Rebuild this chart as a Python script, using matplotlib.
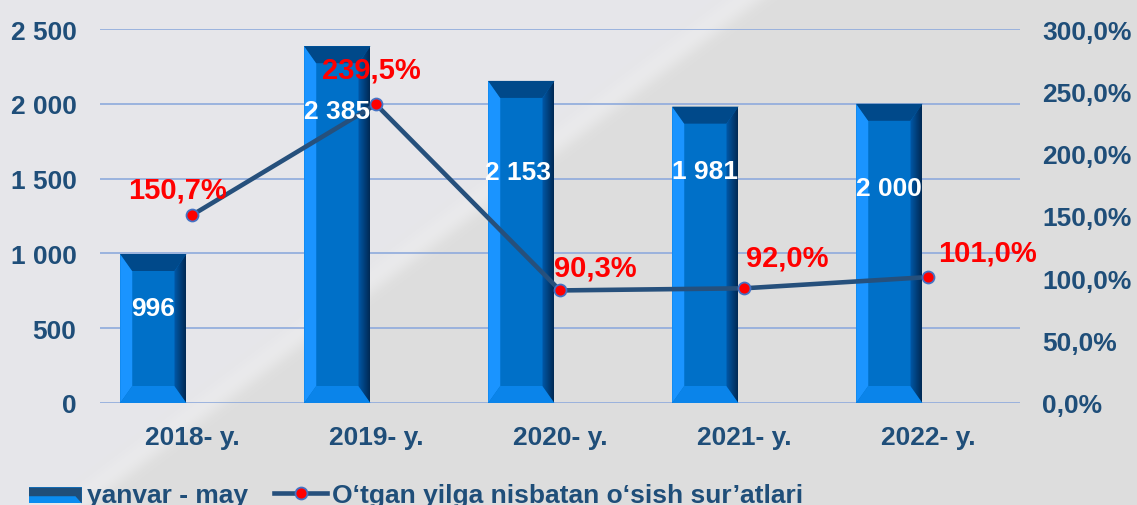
import numpy as np
import matplotlib
matplotlib.use('Agg')
import matplotlib.pyplot as plt
from matplotlib.patches import Polygon, Patch
from matplotlib.lines import Line2D
from matplotlib.ticker import FuncFormatter

plt.rcParams['font.family'] = ['Liberation Sans', 'DejaVu Sans']
plt.rcParams['font.weight'] = 'bold'

# data
years = ['2018- y.', '2019- y.', '2020- y.', '2021- y.', '2022- y.']
values = [996, 2385, 2153, 1981, 2000]
growth = [150.7, 239.5, 90.3, 92.0, 101.0]
value_labels = ['996', '2 385', '2 153', '1 981', '2 000']
growth_labels = ['150,7%', '239,5%', '90,3%', '92,0%', '101,0%']
bar_name = 'yanvar - may'
line_name = 'O\u2018tgan yilga nisbatan o\u2018sish sur\u2019atlari'

# label offsets in pixels (styling)
val_offsets = [(0, -54), (0, -65), (-3, -91), (0, -64), (0, -84)]
pct_offsets = [(-14, 26), (-5, 35), (35, 23), (43, 31), (59, 25)]

W, H = 1137, 506
TXT = '#1f4e79'
fig = plt.figure(figsize=(W / 100, H / 100), dpi=100)

# background
bg_ax = fig.add_axes([0, 0, 1, 1], zorder=-5)
yy, xx = np.mgrid[0:H, 0:W]
d = xx + 1.33 * yy
left_c = np.array([230, 230, 234]) / 255
right_c = np.array([221, 221, 221]) / 255
t = np.clip((d - 738) / 60 + 0.5, 0, 1)[..., None]
img = left_c * (1 - t) + right_c * t
streak = np.exp(-((d - 745) / 22) ** 2)[..., None] * 0.035
img = np.clip(img + streak, 0, 1)
bg_ax.imshow(img, aspect='auto', extent=[0, 1, 0, 1])
bg_ax.axis('off')

ax = fig.add_axes([100 / W, 102 / H, 920 / W, 374 / H])
ax.patch.set_alpha(0)
x = np.arange(len(years))
bw = 0.36
shift = 0.21  # bars sit left of the category centre
ax.set_xlim(-0.5, len(years) - 0.5)
ax.set_ylim(0, 2500)

bx = x - shift
bars = ax.bar(bx, values, width=bw, color='#0070c8', zorder=2)

# bevel edges
dx = 12 / 184
dy = 17 / 374 * 2500
rb = matplotlib.colors.LinearSegmentedColormap.from_list('rb', ['#0058a8', '#002a55'])
for b in bars:
    x0 = b.get_x()
    x1 = x0 + b.get_width()
    v = b.get_height()
    faces = [
        ([(x0, 0), (x0, v), (x0 + dx, v - dy), (x0 + dx, dy)], '#1a94ff'),
        ([(x0, 0), (x1, 0), (x1 - dx, dy), (x0 + dx, dy)], '#0a84ea'),
        ([(x0, v), (x1, v), (x1 - dx, v - dy), (x0 + dx, v - dy)], '#00498a'),
    ]
    for pts, c in faces:
        ax.add_patch(Polygon(pts, closed=True, facecolor=c, edgecolor='none', zorder=3))
    rp = Polygon([(x1, 0), (x1, v), (x1 - dx, v - dy), (x1 - dx, dy)], closed=True,
                 facecolor='none', edgecolor='none', zorder=3)
    ax.add_patch(rp)
    grad = np.linspace(0, 1, 20)[None, :]
    im = ax.imshow(grad, extent=[x1 - dx, x1, 0, v], aspect='auto', zorder=3, cmap=rb)
    im.set_clip_path(rp)

ax.set_xlim(-0.5, len(years) - 0.5)
ax.set_ylim(0, 2500)
ax.set_yticks(np.arange(0, 2501, 500))
ax.yaxis.set_major_formatter(FuncFormatter(lambda v, p: f'{int(v):,}'.replace(',', ' ')))
ax.set_xticks(x)
ax.set_xticklabels(years)
ax.grid(axis='y', color='#8eaadc', lw=1.2, zorder=1)
ax.set_axisbelow(True)
for s in ax.spines.values():
    s.set_visible(False)
ax.tick_params(axis='both', length=0, labelsize=19, labelcolor=TXT)
ax.tick_params(axis='y', pad=17)
ax.tick_params(axis='x', pad=16)

ax2 = ax.twinx()
ax2.set_ylim(0, 300)
ax2.set_yticks(np.arange(0, 301, 50))
ax2.yaxis.set_major_formatter(FuncFormatter(lambda v, p: f'{v:.1f}%'.replace('.', ',')))
for s in ax2.spines.values():
    s.set_visible(False)
ax2.tick_params(axis='y', length=0, labelsize=19, labelcolor=TXT, pad=16)

ax2.plot(x, growth, color='#26507c', lw=3.3, marker='o', ms=8.6,
         mfc='#ff0000', mec='#4472c4', mew=1.3, zorder=5)
for i, g in enumerate(growth):
    ax2.annotate(growth_labels[i], (x[i], g), xytext=pct_offsets[i], textcoords='offset pixels',
                 ha='center', va='center', color='#ff0000', fontsize=21, fontweight='bold',
                 zorder=6)

# bar value labels sit above the line
for i, v in enumerate(values):
    ax2.annotate(value_labels[i], (bx[i], v), xycoords=ax.transData,
                 xytext=val_offsets[i], textcoords='offset pixels',
                 ha='center', va='center', color='white', fontsize=19, fontweight='bold',
                 zorder=6)


class BevelHandler:
    def legend_artist(self, legend, orig_handle, fontsize, handlebox):
        x0, y0 = handlebox.xdescent, handlebox.ydescent
        w, h = handlebox.width, handlebox.height
        tr = handlebox.get_transform()
        base = Polygon([(x0, y0), (x0 + w, y0), (x0 + w, y0 + h), (x0, y0 + h)],
                       facecolor='#0a8cf0', edgecolor='none', transform=tr)
        top = Polygon([(x0, y0 + h), (x0 + w, y0 + h), (x0 + w, y0),
                       (x0 + w * 0.88, y0 + h * 0.45), (x0, y0 + h * 0.45)],
                      facecolor='#1f4e79', edgecolor='none', transform=tr)
        handlebox.add_artist(base)
        handlebox.add_artist(top)
        return base


h1 = Patch(label=bar_name)
h2 = Line2D([], [], color='#26507c', lw=3.3, marker='o', ms=8.6,
            mfc='#ff0000', mec='#4472c4', mew=1.3, label=line_name)
fig.legend(handles=[h1, h2], handler_map={Patch: BevelHandler()}, loc='center left',
           bbox_to_anchor=(29 / W, 10 / H), ncol=2, frameon=False, fontsize=19,
           labelcolor=TXT, handlelength=2.0, handleheight=0.55, handletextpad=0.2,
           columnspacing=1.0, borderpad=0, borderaxespad=0)

fig.savefig('out.png', dpi=100)
